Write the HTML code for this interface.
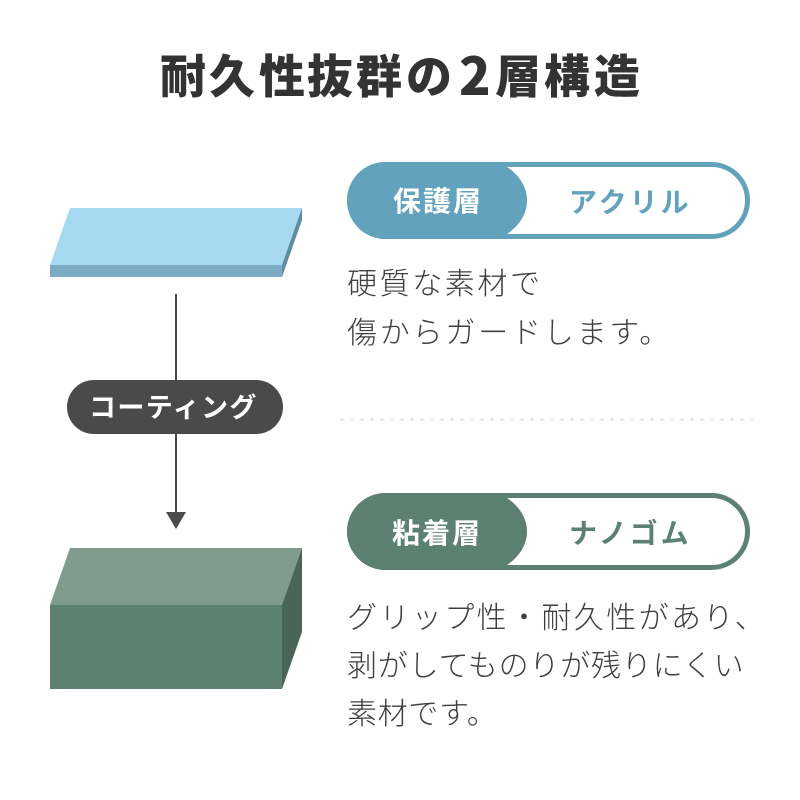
<!DOCTYPE html>
<html lang="ja"><head><meta charset="utf-8"><style>
html,body{margin:0;padding:0;background:#fff;width:800px;height:800px;overflow:hidden}
svg{display:block}
text{font-family:"Liberation Sans","Noto Sans CJK JP",sans-serif}
.t{font-family:"Noto Sans CJK JP",sans-serif;font-weight:900}
.b{font-family:"Noto Sans CJK JP",sans-serif;font-weight:300;font-size:30px;fill:#3f3f3f}
.l{font-family:"Noto Sans CJK JP",sans-serif;font-weight:700;font-size:28px}
</style></head><body>
<svg width="800" height="800" viewBox="0 0 800 800" xmlns="http://www.w3.org/2000/svg">
<text class="t" y="93" font-size="46" fill="#333" x="160 209 259 307 356 406">耐久性抜群の</text>
<text class="t" y="95" font-size="52" fill="#333" x="459">2</text>
<text class="t" y="93" font-size="46" fill="#333" x="495 544 594">層構造</text>

<polygon points="70,208 302,208 282,265 50,265" fill="#a6d9f0"/>
<rect x="50" y="265" width="232" height="12" fill="#7eabc4"/>
<polygon points="302,208 302,220 282,277 282,265" fill="#5f8ba0"/>

<line x1="176" y1="294" x2="176" y2="514" stroke="#4a4a4a" stroke-width="2"/>
<polygon points="166,512 186,512 176,529" fill="#4a4a4a"/>
<rect x="67" y="380" width="216" height="54" rx="27" fill="#4a4a4a"/>
<text class="l" x="89" y="417" style="font-size:27px;letter-spacing:1.400px" fill="#fff">コーティング</text>

<polygon points="70,548 302,548 282,605 50,605" fill="#7e9b8e"/>
<rect x="50" y="605" width="232" height="84" fill="#5c8172"/>
<polygon points="302,548 302,632 282,689 282,605" fill="#486557"/>

<rect x="349.500" y="164.500" width="398" height="72" rx="36" fill="#fff" stroke="#62a2bc" stroke-width="5"/>
<path d="M385.500 162H497L507,167C519,175 527,187 527,200.500C527,214 519,226 507,234L497,239H385.500A38.500,38.500 0 0 1 385.500,162Z" fill="#62a2bc"/>
<text class="l" x="393" y="211" fill="#fff" style="letter-spacing:2px">保護層</text>
<text class="l" x="569" y="212" fill="#62a2bc" style="letter-spacing:3px">アクリル</text>

<rect x="349.500" y="495.500" width="398" height="72" rx="36" fill="#fff" stroke="#5c8172" stroke-width="5"/>
<path d="M385.500 493H497L507,498C519,506 527,518 527,531.500C527,545 519,557 507,565L497,570H385.500A38.500,38.500 0 0 1 385.500,493Z" fill="#5c8172"/>
<text class="l" x="392" y="543" fill="#fff" style="letter-spacing:2px">粘着層</text>
<text class="l" x="569" y="543" fill="#5c8172" style="letter-spacing:3px">ナノゴム</text>

<text class="b" x="347" y="294" style="letter-spacing:2.600px">硬質な素材で</text>
<text class="b" x="347" y="343" style="letter-spacing:2.800px">傷からガードします。</text>
<line x1="342" y1="419.500" x2="757" y2="419.500" stroke="#e2e2e2" stroke-width="3" stroke-linecap="round" stroke-dasharray="0 10"/>
<text class="b" x="347" y="628" style="letter-spacing:2.400px">グリップ性・耐久性があり、</text>
<text class="b" x="347" y="676" style="letter-spacing:0.800px">剥がしてものりが残りにくい</text>
<text class="b" x="347" y="724" style="letter-spacing:0.700px">素材です。</text>
</svg>
</body></html>
